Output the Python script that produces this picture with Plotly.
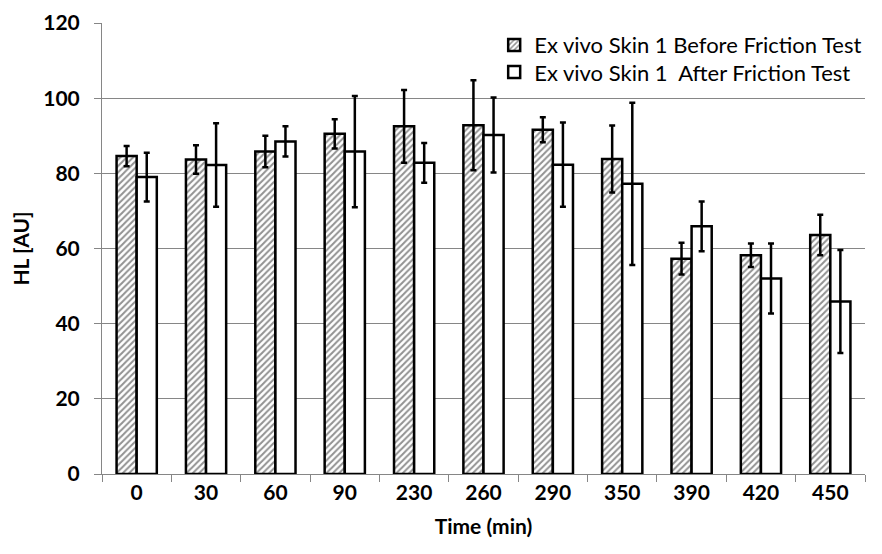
import plotly.graph_objects as go

categories = ["0", "30", "60", "90", "230", "260", "290", "350", "390", "420", "450"]
before_vals = [84.6, 83.7, 85.8, 90.5, 92.5, 92.8, 91.6, 83.8, 57.3, 58.2, 63.6]
before_err = [2.7, 3.8, 4.2, 3.9, 9.7, 12.0, 3.3, 8.9, 4.2, 3.1, 5.4]
after_vals = [79.0, 82.2, 88.5, 85.8, 82.8, 90.2, 82.3, 77.2, 65.9, 52.0, 45.9]
after_err = [6.5, 11.1, 4.0, 14.8, 5.3, 10.0, 11.2, 21.6, 6.6, 9.3, 13.7]

FONT = "Lato"

fig = go.Figure()
fig.add_trace(go.Bar(
    x=categories, y=before_vals, name="Ex vivo Skin 1 Before Friction Test",
    marker=dict(color="white", line=dict(color="black", width=2.5),
                pattern=dict(shape="/", fgcolor="#262626", bgcolor="white", size=4.5, solidity=0.45)),
    error_y=dict(type="data", array=before_err, visible=True, color="black", thickness=2.5, width=3),
    legend="legend",
))
fig.add_trace(go.Bar(
    x=categories, y=after_vals, name="Ex vivo Skin 1  After Friction Test",
    marker=dict(color="white", line=dict(color="black", width=2.5)),
    error_y=dict(type="data", array=after_err, visible=True, color="black", thickness=2.5, width=3),
    legend="legend2",
))

leg_common = dict(x=0.514, xanchor="left", yanchor="middle",
                  bgcolor="rgba(0,0,0,0)", font=dict(family=FONT, size=22), itemwidth=30)

fig.update_layout(
    width=874, height=546,
    margin=dict(l=94, r=17, t=15, b=80, autoexpand=False),
    paper_bgcolor="white", plot_bgcolor="white",
    barmode="group", bargap=0.42, bargroupgap=0,
    font=dict(family=FONT, size=22, color="black"),
    showlegend=True,
    legend=dict(y=0.951, **leg_common),
    legend2=dict(y=0.891, **leg_common),
    xaxis=dict(
        type="category", showline=True, linecolor="#868686", linewidth=1,
        ticks="outside", tickson="boundaries", ticklen=7, tickcolor="#868686",
        showgrid=False, tickfont=dict(family=FONT, size=21, color="black", weight="bold"),
        tickangle=0,
        title=dict(text="<b>Time (min)</b>", font=dict(family=FONT, size=21), standoff=16),
        automargin=False,
    ),
    yaxis=dict(
        range=[0, 120], tickvals=[0, 20, 40, 60, 80, 100, 120],
        showline=True, linecolor="#868686", linewidth=1,
        ticks="outside", ticklen=7, tickcolor="#868686",
        showgrid=True, gridcolor="#868686", gridwidth=1, zeroline=False,
        tickfont=dict(family=FONT, size=21, color="black", weight="bold"),
        ticklabelstandoff=10,
        title=dict(text="<b>HL [AU]</b>", font=dict(family=FONT, size=21), standoff=8),
        automargin=False,
    ),
)

fig.write_html("out.html")
